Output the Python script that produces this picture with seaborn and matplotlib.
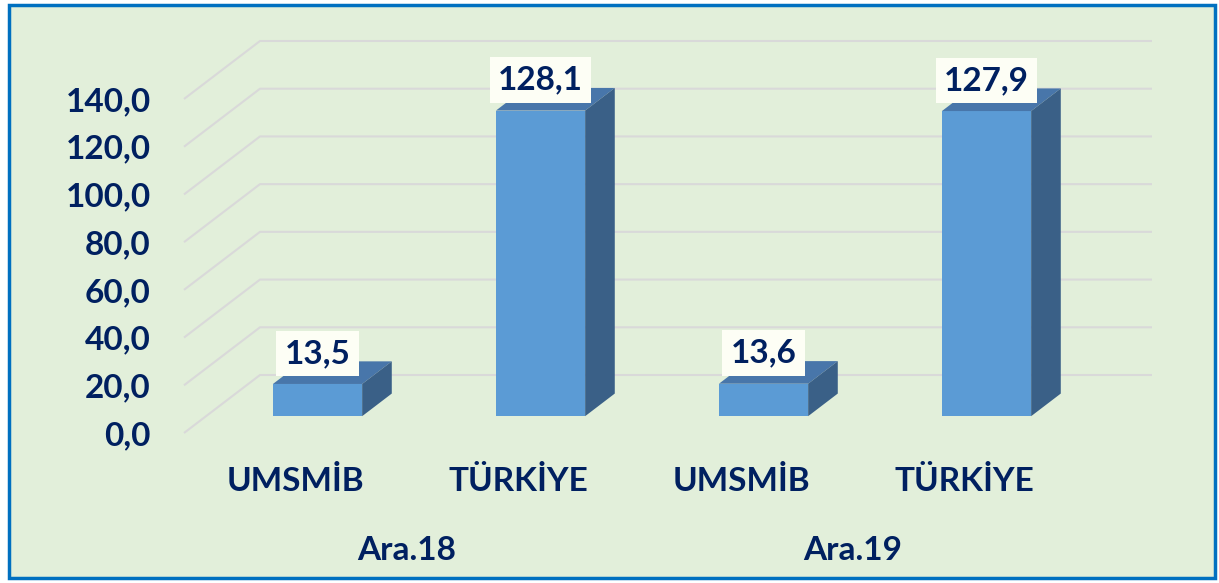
import matplotlib
matplotlib.use("Agg")
import matplotlib.pyplot as plt
from matplotlib.patches import Polygon, Rectangle
import pandas as pd
import seaborn as sns

# data
periods = ["Ara.18", "Ara.18", "Ara.19", "Ara.19"]
regions = ["UMSMİB", "TÜRKİYE", "UMSMİB", "TÜRKİYE"]
values = [13.5, 128.1, 13.6, 127.9]
yticks = [0, 20, 40, 60, 80, 100, 120, 140]

df = pd.DataFrame({"period": periods, "region": regions, "value": values})

navy = "#002060"
front_c = "#5B9BD5"
top_c = "#4876AA"
side_c = "#3A6087"
grid_c = "#D9D9D9"
bg = "#E2EFDA"
fs = 24

sns.set_theme(style="white")
plt.rcParams["font.family"] = ["Lato", "DejaVu Sans"]
plt.rcParams["font.weight"] = "bold"

W, H = 1219, 583
fig = plt.figure(figsize=(W / 100, H / 100), dpi=100)
fig.patch.set_facecolor("white")
fig.patches.append(Rectangle((9 / W, 5 / H), 1206 / W, 573 / H, transform=fig.transFigure,
                             facecolor=bg, edgecolor="#0070C0", linewidth=2.5, zorder=-1))

# axes = front plane of the 3d box
ax = fig.add_axes([184 / W, 150 / H, 892 / W, 334 / H])
ax.patch.set_visible(False)

sns.barplot(data=df, x="period", y="value", hue="region", width=1.0, gap=0.6,
            palette=[front_c, front_c], saturation=1, legend=False, ax=ax,
            edgecolor="none", linewidth=0)
ax.set_xlim(-0.5, 1.5)
ax.set_ylim(0, 140)

# oblique depth, pixels -> data units
px_x = 892 / 2
px_y = 334 / 140
DX, DY = 76 / px_x, 58 / px_y
f0, f1 = 0.29, 0.68

# back wall + floor gridlines
for v in yticks:
    ax.plot([-0.5, -0.5 + DX, 1.5 + DX], [v, v + DY, v + DY], color=grid_c, lw=1.5,
            clip_on=False, zorder=0.5, solid_capstyle="butt")

bars = sorted(list(ax.patches), key=lambda p: p.get_x())
centers = []
for p in bars:
    x0, w, h = p.get_x(), p.get_width(), p.get_height()
    centers.append(x0 + w / 2)
    fx, fy = f0 * DX, f0 * DY
    bx, by = f1 * DX, f1 * DY
    p.set_x(x0 + fx)
    p.set_y(fy)
    p.set_zorder(3)
    p.set_clip_on(False)
    top = Polygon([(x0 + fx, h + fy), (x0 + w + fx, h + fy), (x0 + w + bx, h + by), (x0 + bx, h + by)],
                  closed=True, fc=top_c, ec="none", zorder=3, clip_on=False)
    side = Polygon([(x0 + w + fx, fy), (x0 + w + bx, by), (x0 + w + bx, h + by), (x0 + w + fx, h + fy)],
                   closed=True, fc=side_c, ec="none", zorder=3, clip_on=False)
    ax.add_patch(top)
    ax.add_patch(side)
    ax.annotate(f"{h:.1f}".replace(".", ","), xy=(x0 + fx + w / 2, h + fy), xytext=(0, 16),
                textcoords="offset pixels", ha="center", va="bottom", fontsize=fs,
                color=navy, fontweight="bold", zorder=5, annotation_clip=False,
                bbox=dict(boxstyle="square,pad=0.25", fc="#FDFEF5", ec="none"))

ax.set_yticks(yticks, labels=[f"{v:.1f}".replace(".", ",") for v in yticks])
ax.set_xticks([0, 1], labels=["Ara.18", "Ara.19"])
ax.set_xticks(centers, labels=regions, minor=True)
ax.tick_params(axis="y", length=0, pad=24, labelsize=fs, labelcolor=navy)
ax.tick_params(axis="x", which="both", length=0, labelsize=fs, labelcolor=navy)
ax.tick_params(axis="x", which="minor", pad=24)
ax.tick_params(axis="x", which="major", pad=74)
ax.set_xlabel("")
ax.set_ylabel("")
sns.despine(ax=ax, left=True, bottom=True)

fig.savefig("out.png", dpi=100, facecolor=fig.get_facecolor())
